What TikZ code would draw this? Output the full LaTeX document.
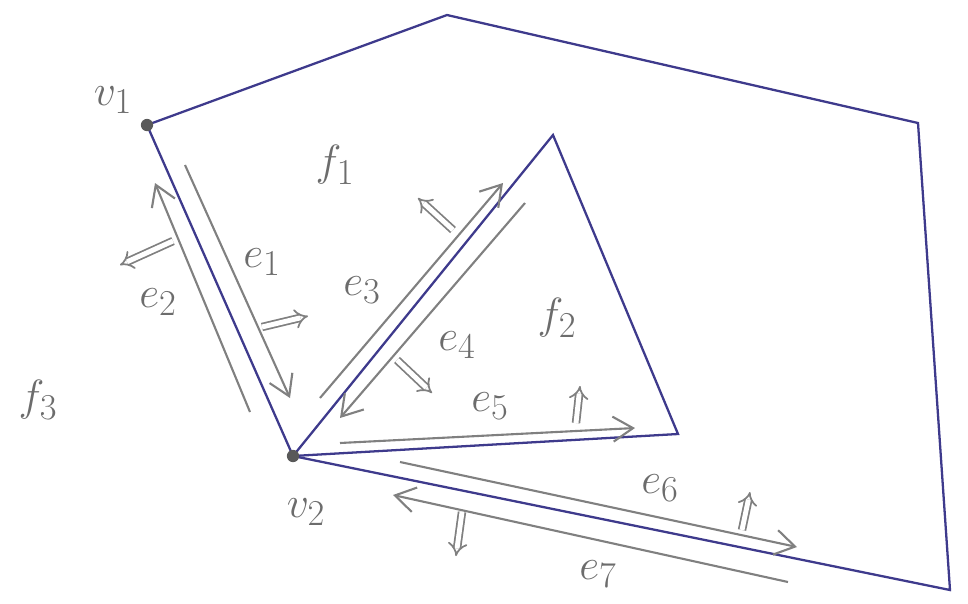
\documentclass[tikz,border=0pt]{standalone}
\usepackage{amsfonts, amssymb, amsmath}
\usetikzlibrary{arrows.meta}

\tikzset{
  edge/.style={line width=1.3pt, draw={rgb,255:red,62;green,58;blue,140}},
  half/.style={line width=1.2pt, gray, -{Straight Barb[length=4mm,width=5mm]}},
  normal/.style={gray, line width=1pt, double, double distance=2.8pt, -{Implies}},
  lbl/.style={gray!85!black, inner sep=1pt, font=\fontsize{28}{30}\selectfont}
}

\begin{document}
\begin{tikzpicture}[x=0.02cm, y=-0.02cm]
  \useasboundingbox (0,0) rectangle (968,603);
  % vertices
  \coordinate (v1) at (147,125);
  \coordinate (a) at (447,15);
  \coordinate (b) at (918,123);
  \coordinate (c) at (950,590);
  \coordinate (v2) at (293,456);
  \coordinate (t) at (553,135);
  \coordinate (r) at (678,434);
  % faces
  \draw[edge] (v1) -- (a) -- (b) -- (c) -- (v2) -- cycle;
  \draw[edge] (v2) -- (t) -- (r) -- cycle;
  \fill[gray!70!black] (v1) circle (3.5pt) (v2) circle (3.5pt);
  % half-edges
  \foreach \xa/\ya/\xb/\yb in {185/165/290/398, 250/412/155/183,
                               320/398/503/183, 525/203/340/418,
                               340/443/635/428, 400/462/797/547,
                               788/582/393/495} {
    \draw[half] (\xa,\ya) -- (\xb,\yb);
  }
  % normals
  \foreach \xa/\ya/\xb/\yb in {173/241/120/265, 262/327/308/316,
                               453/230/418/198, 397/360/432/393,
                               576/423/580/386, 742/530/750/492,
                               462/512/456/556} {
    \draw[normal] (\xa,\ya) -- (\xb,\yb);
  }
  % labels
  \node[lbl] (lv1) at (113,100) {$v_1$};
  \node[lbl] (lv2) at (306,512) {$v_2$};
  \node[lbl] (lf1) at (335,165) {$f_1$};
  \node[lbl] (lf2) at (557,318) {$f_2$};
  \node[lbl] (lf3) at (38,400) {$f_3$};
  \node[lbl] (le1) at (262,262) {$e_1$};
  \node[lbl] (le2) at (158,302) {$e_2$};
  \node[lbl] (le3) at (362,290) {$e_3$};
  \node[lbl] (le4) at (457,345) {$e_4$};
  \node[lbl] (le5) at (490,406) {$e_5$};
  \node[lbl] (le6) at (660,488) {$e_6$};
  \node[lbl] (le7) at (598,574) {$e_7$};
\end{tikzpicture}
\end{document}
